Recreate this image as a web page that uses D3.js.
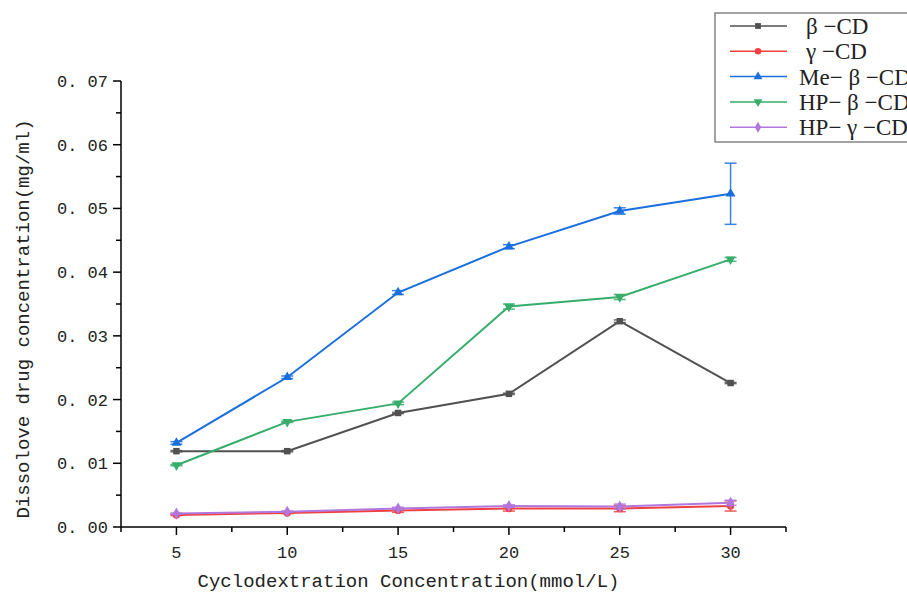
<!DOCTYPE html>
<html>
<head>
<meta charset="utf-8">
<script src="https://cdn.jsdelivr.net/npm/d3@7"></script>
<style>
  body { margin: 0; background: #fff; }
  text { font-family: "Liberation Mono", "DejaVu Sans Mono", monospace; fill: #222; }
</style>
</head>
<body>
<div id="chart"></div>
<script>
// concentrations (mmol/L)
const conc = [5, 10, 15, 20, 25, 30]
const seriesNames = ["β −CD", "γ −CD", "Me− β −CD", "HP− β −CD", "HP− γ −CD"]
const betaCD   = [0.0119, 0.0119, 0.0179, 0.0209, 0.0323, 0.0226]
const gammaCD  = [0.0019, 0.0022, 0.0026, 0.0029, 0.0029, 0.0033]
const meBetaCD = [0.0132, 0.0235, 0.0368, 0.0440, 0.0496, 0.0523]
const hpBetaCD = [0.0097, 0.0165, 0.0194, 0.0346, 0.0361, 0.0420]
const hpGammaCD= [0.0021, 0.0024, 0.0029, 0.0033, 0.0032, 0.0038]
// error bars (sd)
const betaErr   = [0.0001, 0.0001, 0.0001, 0.0001, 0.0002, 0.0001]
const gammaErr  = [0.0001, 0.0001, 0.0003, 0.0004, 0.0005, 0.0008]
const meBetaErr = [0.0002, 0.0002, 0.0003, 0.0003, 0.0005, 0.0048]
const hpBetaErr = [0.0001, 0.0001, 0.0002, 0.0004, 0.0004, 0.0003]
const hpGammaErr= [0.0001, 0.0001, 0.0002, 0.0002, 0.0004, 0.0004]
const yTicks = [0, 0.01, 0.02, 0.03, 0.04, 0.05, 0.06, 0.07]

const colors = ["#515151", "#F14040", "#1A6FDF", "#37AD6B", "#B177DE"]
const shapes = ["square", "circle", "up", "down", "diamond"]
const allVals = [betaCD, gammaCD, meBetaCD, hpBetaCD, hpGammaCD]
const allErrs = [betaErr, gammaErr, meBetaErr, hpBetaErr, hpGammaErr]

const width = 907, height = 592
const mLeft = 121, mRight = 786, mTop = 81, mBottom = 527

const svg = d3.select("#chart").append("svg")
    .attr("width", width)
    .attr("height", height)

svg.append("rect").attr("width", width).attr("height", height).attr("fill", "#fff")

const x = d3.scaleLinear().domain([2.5, 32.5]).range([mLeft, mRight])
const y = d3.scaleLinear().domain([0, 0.07]).range([mBottom, mTop])

// x axis
const xAxis = svg.append("g").attr("transform", "translate(0," + mBottom + ")")
xAxis.append("line").attr("x1", mLeft).attr("x2", mRight).attr("stroke", "#000").attr("stroke-width", 1.5)
const xMinor = d3.range(2.5, 32.6, 2.5)
xAxis.selectAll(".xt").data(xMinor).enter().append("line")
    .attr("x1", d => x(d)).attr("x2", d => x(d))
    .attr("y1", 0).attr("y2", d => (d % 5 === 0) ? 8 : 5)
    .attr("stroke", "#000").attr("stroke-width", 1.5)
xAxis.selectAll(".xl").data(conc).enter().append("text")
    .attr("x", d => x(d)).attr("y", 31)
    .attr("text-anchor", "middle")
    .style("font-size", "17px")
    .text(d => d)

// y axis
const yAxis = svg.append("g").attr("transform", "translate(" + mLeft + ",0)")
yAxis.append("line").attr("y1", mTop).attr("y2", mBottom).attr("stroke", "#000").attr("stroke-width", 1.5)
const yMinor = d3.range(0, 0.0701, 0.005)
yAxis.selectAll(".yt").data(yMinor).enter().append("line")
    .attr("y1", d => y(d)).attr("y2", d => y(d))
    .attr("x1", 0).attr("x2", (d, i) => i % 2 === 0 ? -8 : -5)
    .attr("stroke", "#000").attr("stroke-width", 1.5)
yAxis.selectAll(".yl").data(yTicks).enter().append("text")
    .attr("x", -13).attr("y", d => y(d) + 6)
    .attr("text-anchor", "end")
    .style("font-size", "17px")
    .text(d => d3.format(".2f")(d).replace(".", ". "))

// axis titles
svg.append("text")
    .attr("x", (mLeft + mRight) / 2 - 45).attr("y", 587)
    .attr("text-anchor", "middle")
    .style("font-size", "19px")
    .text("Cyclodextration Concentration(mmol/L)")
svg.append("text")
    .attr("transform", "translate(29," + 319 + ") rotate(-90)")
    .attr("text-anchor", "middle")
    .style("font-size", "19px")
    .text("Dissolove drug concentration(mg/ml)")

function symbolFor(s, sz) {
    if (s == "square") return d3.symbol().type(d3.symbolSquare).size(sz)()
    if (s == "circle") return d3.symbol().type(d3.symbolCircle).size(sz)()
    if (s == "diamond") return d3.symbol().type(d3.symbolDiamond).size(sz)()
    return d3.symbol().type(d3.symbolTriangle).size(sz)()
}

const line = d3.line().x(d => x(d[0])).y(d => y(d[1]))

allVals.forEach(function(vals, k) {
    const pts = conc.map((c, i) => [c, vals[i], allErrs[k][i]])
    const g = svg.append("g")
    // error bars
    pts.forEach(function(p) {
        const cx = x(p[0]), y1 = y(p[1] + p[2]), y2 = y(p[1] - p[2])
        g.append("line").attr("x1", cx).attr("x2", cx).attr("y1", y1).attr("y2", y2)
            .attr("stroke", colors[k]).attr("stroke-width", 1.5).attr("opacity", 0.85)
        ;[y1, y2].forEach(function(yy) {
            g.append("line").attr("x1", cx - 6).attr("x2", cx + 6).attr("y1", yy).attr("y2", yy)
                .attr("stroke", colors[k]).attr("stroke-width", 1.5).attr("opacity", 0.85)
        })
    })
    g.append("path").attr("d", line(pts))
        .attr("fill", "none").attr("stroke", colors[k]).attr("stroke-width", 2)
    g.selectAll("path.m").data(pts).enter().append("path")
        .attr("class", "m")
        .attr("d", symbolFor(shapes[k], 42))
        .attr("transform", d => "translate(" + x(d[0]) + "," + y(d[1]) + ")" + (shapes[k] == "down" ? " rotate(180)" : ""))
        .attr("fill", colors[k])
})

// legend
const legend = svg.append("g")
legend.append("rect").attr("x", 715).attr("y", 13).attr("width", 200).attr("height", 129)
    .attr("fill", "#fff").attr("stroke", "#666").attr("stroke-width", 1.2)
seriesNames.forEach(function(name, k) {
    const ly = 26 + k * 25.3
    legend.append("line").attr("x1", 730).attr("x2", 787).attr("y1", ly).attr("y2", ly)
        .attr("stroke", colors[k]).attr("stroke-width", 1.5)
    legend.append("path").attr("d", symbolFor(shapes[k], 34))
        .attr("transform", "translate(758," + ly + ")" + (shapes[k] == "down" ? " rotate(180)" : ""))
        .attr("fill", colors[k])
    legend.append("text").attr("x", k < 2 ? 806 : 799).attr("y", ly + 8)
        .style("font-family", "'Liberation Serif', serif")
        .style("font-size", "23px")
        .text(name)
})
</script>
</body>
</html>
